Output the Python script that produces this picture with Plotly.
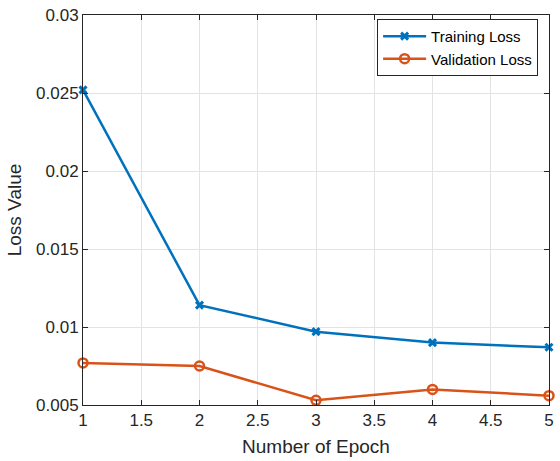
import plotly.graph_objects as go

epochs = [1, 2, 3, 4, 5]
training_loss = [0.0252, 0.0114, 0.0097, 0.0090, 0.0087]
validation_loss = [0.0077, 0.0075, 0.0053, 0.0060, 0.0056]
x_ticks = [1, 1.5, 2, 2.5, 3, 3.5, 4, 4.5, 5]
x_tick_labels = ["1", "1.5", "2", "2.5", "3", "3.5", "4", "4.5", "5"]
y_ticks = [0.005, 0.01, 0.015, 0.02, 0.025, 0.03]
y_tick_labels = ["0.005", "0.01", "0.015", "0.02", "0.025", "0.03"]

fig = go.Figure()
fig.add_trace(go.Scatter(
    x=epochs, y=training_loss, mode="lines+markers", name="Training Loss",
    line=dict(color="#0072BD", width=2.5),
    marker=dict(symbol="x-thin-open", size=7, line=dict(color="#0072BD", width=3)),
    cliponaxis=False,
))
fig.add_trace(go.Scatter(
    x=epochs, y=validation_loss, mode="lines+markers", name="Validation Loss",
    line=dict(color="#D95319", width=2.5),
    marker=dict(symbol="circle-open", size=9, color="#D95319", line=dict(color="#D95319", width=2.5)),
    cliponaxis=False,
))

axis_common = dict(
    showline=True, linecolor="#262626", linewidth=1, mirror="allticks",
    ticks="inside", ticklen=5, tickcolor="#262626",
    showgrid=True, gridcolor="#E3E3E3", gridwidth=1, zeroline=False,
    tickfont=dict(family="Liberation Sans, Arial", size=17, color="#262626"),
)

fig.update_layout(
    width=560, height=461,
    margin=dict(l=83, r=6, t=12, b=56),
    paper_bgcolor="white", plot_bgcolor="white",
    font=dict(family="Liberation Sans, Arial", color="#262626"),
    xaxis=dict(range=[1, 5], tickvals=x_ticks, ticktext=x_tick_labels,
               title=dict(text="Number of Epoch", font=dict(size=19), standoff=10), **axis_common),
    yaxis=dict(range=[0.005, 0.03], tickvals=y_ticks, ticktext=y_tick_labels,
               title=dict(text="Loss Value", font=dict(size=19), standoff=9), **axis_common),
    legend=dict(x=(543 - 83) / 471, y=0.99, xanchor="right", yanchor="top",
                bgcolor="white", bordercolor="#262626", borderwidth=1,
                itemwidth=43,
                font=dict(size=15, color="#000000"), tracegroupgap=0),
    showlegend=True,
)

fig.write_html("out.html")
